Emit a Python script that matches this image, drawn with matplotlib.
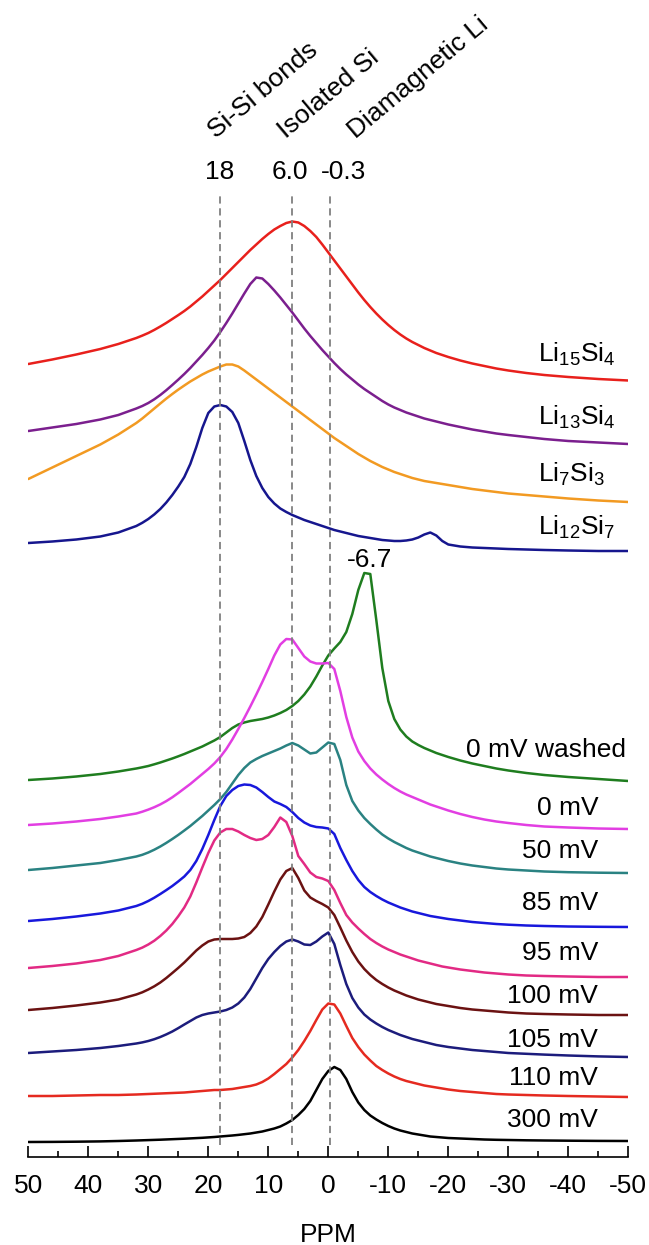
import matplotlib
matplotlib.use("Agg")
import matplotlib.pyplot as plt
from matplotlib.ticker import MultipleLocator

plt.rcParams['font.family'] = ['Liberation Sans', 'DejaVu Sans']
plt.rcParams['mathtext.fontset'] = 'custom'
plt.rcParams['mathtext.rm'] = 'Liberation Sans'
plt.rcParams['axes.unicode_minus'] = False

# chemical shift grid (ppm) shared by all spectra
ppm = [50, 46, 42, 38, 35, 32, 31, 30, 29, 28, 27, 26, 25, 24,
       23, 22, 21, 20, 19, 18, 17, 16, 15, 14, 13, 12, 11, 10, 9, 8, 7, 6, 5, 4, 3, 2, 1, 0,
       -1, -2, -3, -4, -5, -6, -7, -8, -9, -10, -11, -12, -13, -14, -15, -16, -17, -18, -19, -20,
       -22, -24, -26, -28, -30, -33, -36, -40, -45, -50]

# stacked spectra (height above the axis, in pixels of the original)
li15si4 = [793, 797.5, 802.5, 808, 813, 819, 821.4, 824, 827.1, 830.5, 834.1, 838, 841.9, 846,
           850.5, 855.5, 860.5, 866, 871.5, 877, 883, 889, 895, 901, 907, 912.5, 918, 923, 927.5, 931, 934, 935.5,
           934.5, 931, 926, 920, 912.5, 904.5,
           896.5, 888.5, 880.5, 872.5, 864.5, 857, 850, 843.5, 837.5, 832, 827, 822.5, 818.5, 815, 812, 809, 806.5,
           804, 802, 800,
           796.5, 793.5, 791, 788.5, 786.5, 784, 782, 780, 778, 776.5]
li13si4 = [726, 729.5, 733, 737.5, 742, 748.5, 751, 754, 757.7, 762, 766.8, 772, 777.4, 783,
           789, 795.5, 802, 809, 816.5, 825, 834, 843.5, 853.5, 863.5, 873, 879.5, 878.5, 873, 866.5, 859.5, 852,
           844.5, 836.5, 828.5, 821, 814, 807, 800.5,
           794, 788, 782.5, 777.5, 772.5, 768, 764, 760, 756, 752.5, 749.5, 747, 744.5, 742.5, 740.5, 738.5, 737,
           735.5, 734, 732.5,
           730, 727.5, 725.5, 723.5, 722, 720, 718, 716, 714.5, 713]
li7si3 = [678, 689.5, 701, 712.5, 722.5, 734, 738.5, 743.5, 748.5, 753.5, 758.4, 763, 767.4, 771.5,
          775.5, 779, 782.5, 785.5, 788, 790.5, 792.5, 792.5, 790.5, 786.5, 782, 777.5, 773, 768.5, 764, 759.5,
          755, 750.5, 746, 741.5, 737, 732.5, 728, 723.5,
          719, 715, 711, 707, 703, 699.5, 696, 693, 690, 687.5, 685, 683, 681, 679, 677.5, 676, 675, 674, 673, 672,
          670, 668, 666.5, 665, 663.5, 662, 660.5, 658.5, 656.5, 655]
li12si7 = [614, 615.5, 617.5, 620.5, 624.5, 631, 634.2, 638, 642.6, 648, 654.5, 662, 670.5, 680,
           693, 710, 729, 744, 750.5, 752, 750.5, 745, 734, 716, 697, 681, 669, 660, 653.5, 648.5, 645, 642,
           639.5, 637, 635, 633, 631, 629,
           627, 625.5, 624, 622.5, 621, 620, 619, 618, 617, 616.5, 616, 616, 616.5, 617.5, 619.5, 622.5, 624.5,
           621.5, 616, 612.5,
           610.5, 609.5, 609, 608.5, 608, 607.5, 607, 606.5, 606, 606]
mv0_washed = [377, 378.5, 380.5, 383, 385.5, 388.5, 389.7, 391, 392.7, 394.5, 396.5, 398.5, 400.7, 403,
              405.5, 408, 410.5, 413.5, 416.5, 420, 424.5, 429, 432.5, 434.5, 436, 437, 438, 439.5, 441.5, 444,
              447, 451, 456, 462.5, 470.5, 480.5, 491.5, 501.5,
              508.5, 515, 525, 543, 567, 584, 583, 537, 489, 456, 438, 427.5, 420.5, 415.5, 412, 409, 406.5, 404,
              402, 400,
              396.5, 393.5, 391, 388.5, 386.5, 384, 382, 380, 378, 376]
mv0 = [332, 333.5, 335.5, 338, 340.5, 343.5, 345.3, 347.4, 349.8, 352.6, 355.9, 359.7, 364, 368.5,
       373, 378, 383, 388, 393.5, 400, 408, 417.5, 428, 439, 450.5, 462.5, 475, 488, 501.5, 512.5, 518, 517.5,
       509, 500.5, 495.5, 493.5, 493.5, 494,
       488, 466, 440, 419.5, 405.5, 396, 388.5, 382.5, 377.5, 373, 369, 365.5, 362.5, 360, 357.5, 355, 352.5,
       350.5, 348.5, 346.5,
       343, 340, 337.5, 335.5, 334, 332, 330.5, 329.5, 328.5, 328]
mv50 = [287, 289, 291.5, 294, 297, 300.5, 302.2, 304.5, 307.3, 310.5, 314.1, 318, 322.1, 326.5,
        331, 336, 341, 346.5, 352, 358, 365, 373.5, 382, 389, 394.5, 398, 401, 403.5, 406, 408.5, 411.5, 414,
        411.5, 407.5, 403.5, 404.5, 409.5, 414.5,
        413, 397, 372, 356, 346.5, 339, 333, 327.5, 322.5, 318.5, 315, 312, 309, 306.5, 304.5, 302.5, 300.5, 299,
        297.5, 296,
        293.5, 291.5, 290, 288.5, 287.5, 286.5, 285.5, 284.8, 284.3, 284]
mv85 = [236, 238, 240.5, 243.5, 246.5, 251, 253.2, 256, 259.3, 263, 266.9, 271, 275.6, 280.5,
        287, 296, 308, 322, 337, 351, 361, 367, 371, 372.5, 372, 369.5, 365, 360, 355.5, 353, 350, 345, 339,
        334.5, 331.5, 330, 329.5, 328.5,
        323, 309, 297, 286, 277, 270, 265, 261, 257.5, 254.5, 252, 249.5, 247.5, 245.5, 244, 242.5, 241, 240,
        239, 238,
        236.5, 235, 234, 233, 232.3, 231.5, 231, 230.5, 230.2, 230]
mv95 = [189, 191, 193.5, 197, 201, 207, 209.4, 212.5, 216.3, 221, 226.5, 233, 240.8, 249.5,
        260.5, 274.5, 289.5, 304, 316.5, 324.5, 328, 328, 325.5, 322, 319, 317, 318, 322, 330, 339.5, 335, 321,
        301, 293, 284.5, 280, 278.5, 276,
        267, 254, 242, 234.5, 228.5, 223, 218, 214, 210.5, 207.5, 205, 202.5, 200.5, 198.5, 196.5, 195, 193.5,
        192, 190.5, 189.5,
        187.5, 186, 184.5, 183.5, 182.5, 181.5, 181, 180.5, 180, 180]
mv100 = [147, 149, 151.5, 154.5, 157.5, 162.5, 164.7, 167.5, 170.7, 174.5, 179, 184, 189.1, 194.5,
         200.5, 206.5, 211.5, 215.5, 217.5, 218, 218, 218, 218.5, 220, 224, 230.5, 240, 252.5, 265.5, 277.5, 286,
         289, 279, 266.5, 259.5, 256, 253, 249.5,
         242, 229.5, 216.5, 205, 195.5, 188, 182, 177, 173, 169.5, 166.5, 164, 161.5, 159.5, 157.5, 156, 154.5,
         153, 152, 151,
         149, 147.5, 146.5, 145.5, 144.5, 143.5, 143, 142.5, 142, 142]
mv105 = [104, 105.5, 107, 109, 111, 113.5, 114.6, 116, 117.8, 120, 122.6, 125.5, 128.9, 132.5,
         136, 139.5, 142, 143.5, 144.5, 145.5, 147, 149.5, 153.5, 159.5, 168, 178.5, 189, 198, 205, 211, 215.5,
         217.5, 215.5, 212.5, 212, 215.5, 220.5, 224.5,
         213, 192, 173, 159, 149.5, 142.5, 137.5, 133.5, 130, 127, 124.5, 122, 120, 118, 116.5, 115, 113.5, 112,
         111, 110,
         108.5, 107, 106, 105, 104, 103.2, 102.4, 101.5, 100.6, 100]
mv110 = [61, 61, 61.5, 62, 62, 62.5, 62.75, 63, 63.25, 63.5, 63.75, 64, 64.25, 64.5,
         65, 65.5, 66, 66.5, 67, 67, 67.5, 68, 69, 70, 71, 72.5, 75, 78.5, 83, 88, 93, 99.5, 107, 116, 126, 137,
         147.5, 153.5,
         152.5, 143.5, 131, 119, 110, 102.5, 96.5, 91, 87, 83.5, 80.5, 78, 76, 74.5, 73, 71.5, 70.5, 69.5, 68.5,
         67.5,
         66, 65, 64, 63, 62.5, 62, 61.5, 61, 60.5, 60]
mv300 = [15, 15.1, 15.3, 15.6, 16, 16.5, 16.7, 16.9, 17.1, 17.3, 17.55, 17.8, 18.05, 18.3,
         18.6, 18.9, 19.2, 19.6, 20, 20.5, 21, 21.5, 22.1, 22.8, 23.5, 24.5, 25.5, 27, 28.5, 30.5, 33.5, 37, 42,
         48, 56, 67, 78, 86,
         90, 87, 78, 65, 54.5, 47, 41.5, 37.5, 34, 31, 28.5, 26.5, 25, 23.5, 22.5, 21.5, 20.5, 20, 19.5, 19,
         18.5, 18, 17.5, 17.2, 17, 16.7, 16.5, 16.3, 16.1, 16]

# reference shifts (dashed lines) and their labels
ref_ppm = [18, 6.0, -0.3]
ref_labels = ['18', '6.0', '-0.3']
ref_label_ppm = [18.05, 6.4, -2.6]
ref_names = ['Si-Si bonds', 'Isolated Si', 'Diamagnetic Li']
ref_name_ppm = [18.8, 7.0, -4.5]

fig = plt.figure(figsize=(6.49, 12.45), dpi=100)
ax = fig.add_axes([28.3 / 649, 88 / 1245, 600 / 649, 1157 / 1245])

curves = [
    (li15si4, '#e8201c'),
    (li13si4, '#7b1f8e'),
    (li7si3, '#f29a22'),
    (li12si7, '#16168e'),
    (mv0_washed, '#1f7d1f'),
    (mv0, '#e23ee2'),
    (mv50, '#2a8282'),
    (mv85, '#1818dc'),
    (mv95, '#e22a84'),
    (mv100, '#6b1212'),
    (mv105, '#1c1c7c'),
    (mv110, '#e52a20'),
    (mv300, '#000000'),
]
for y, c in curves:
    ax.plot(ppm, y, color=c, lw=1.8, solid_joinstyle='round', solid_capstyle='round')

for p in ref_ppm:
    ax.plot([p, p], [12, 965], color='#808080', lw=1.3, linestyle=(0, (4, 2.6)))

fs = 19
for t, p in zip(ref_labels, ref_label_ppm):
    ax.text(p, 978, t, fontsize=fs, ha='center', va='baseline')
for t, p in zip(ref_names, ref_name_ppm):
    ax.text(p, 1018, t, fontsize=fs, ha='left', va='baseline', rotation=40, rotation_mode='anchor')
ax.text(-6.9, 590, '-6.7', fontsize=fs, ha='center', va='baseline')

li_labels = [r'Li$\mathregular{_{15}}$Si$\mathregular{_4}$', r'Li$\mathregular{_{13}}$Si$\mathregular{_4}$',
             r'Li$\mathregular{_7}$Si$\mathregular{_3}$', r'Li$\mathregular{_{12}}$Si$\mathregular{_7}$']
li_label_y = [795, 732, 675, 622]
for t, yy in zip(li_labels, li_label_y):
    ax.text(-34.9, yy, t, fontsize=fs, ha='left', va='baseline')

mv_labels = ['0 mV', '50 mV', '85 mV', '95 mV', '100 mV', '105 mV', '110 mV', '300 mV']
mv_label_y = [342, 299, 247, 197, 154, 110, 72, 30]
for t, yy in zip(mv_labels, mv_label_y):
    ax.text(-45.0, yy, t, fontsize=fs, ha='right', va='baseline')
ax.text(-49.6, 400, '0 mV washed', fontsize=fs, ha='right', va='baseline')

ax.set_xlim(50, -50)
ax.set_ylim(0, 1157)
for s in ['left', 'right', 'top']:
    ax.spines[s].set_visible(False)
ax.spines['bottom'].set_linewidth(1.2)
ax.set_yticks([])
ax.xaxis.set_major_locator(MultipleLocator(10))
ax.xaxis.set_minor_locator(MultipleLocator(5))
ax.tick_params(axis='x', which='major', direction='in', length=8, width=1.2, labelsize=fs, pad=12)
ax.tick_params(axis='x', which='minor', direction='in', length=4.5, width=1.2)
ax.set_xlabel('PPM', fontsize=fs, labelpad=18)
ax.patch.set_alpha(0)

fig.savefig('out.png', dpi=100)
